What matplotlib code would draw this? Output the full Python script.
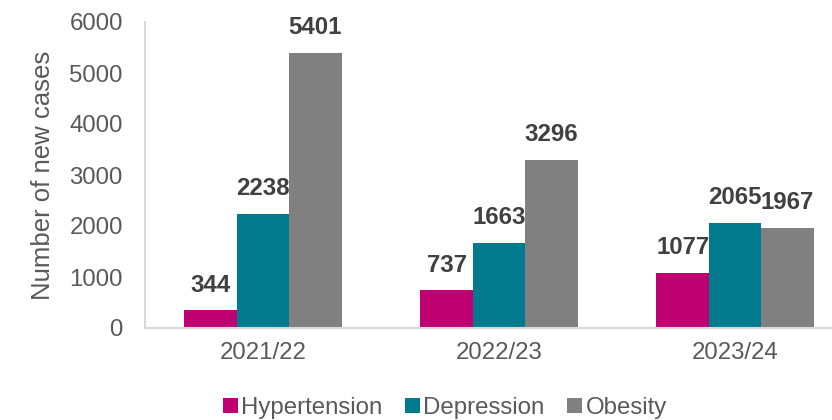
import matplotlib
matplotlib.use("Agg")
import matplotlib.pyplot as plt
import numpy as np

plt.rcParams['font.family'] = ['Liberation Sans', 'DejaVu Sans']

years = ["2021/22", "2022/23", "2023/24"]
hypertension = [344, 737, 1077]
depression = [2238, 1663, 2065]
obesity = [5401, 3296, 1967]
series_names = ["Hypertension", "Depression", "Obesity"]
colors = ["#BE0070", "#007A8C", "#808080"]

W, H = 832, 420
fig = plt.figure(figsize=(W / 100, H / 100), dpi=100)
ax = fig.add_axes([145 / W, 92 / H, 708 / W, 306 / H])

x = np.arange(len(years))
bw = 0.222
tick_color = "#595959"
label_color = "#404040"
fs = 17.3

for i, (vals, name, c) in enumerate(zip([hypertension, depression, obesity], series_names, colors)):
    pos = x + (i - 1) * bw
    bars = ax.bar(pos, vals, width=bw, color=c, label=name, zorder=2)
    for b, v in zip(bars, vals):
        ax.annotate(f"{v}", (b.get_x() + b.get_width() / 2, v),
                    xytext=(0, 10), textcoords="offset points",
                    ha="center", va="bottom", fontsize=fs,
                    fontweight="bold", color=label_color)

ax.set_xlim(-0.5, 2.5)
ax.set_ylim(0, 6000)
ax.set_yticks(range(0, 6001, 1000))
ax.set_xticks(x)
ax.set_xticklabels(years)
ax.tick_params(axis="both", length=0, labelsize=fs, colors=tick_color)
ax.tick_params(axis="y", pad=16)
ax.tick_params(axis="x", pad=10)
ax.set_ylabel("Number of new cases", fontsize=18.5, color=tick_color, labelpad=10)

for s in ["top", "right"]:
    ax.spines[s].set_visible(False)
for s in ["left", "bottom"]:
    ax.spines[s].set_color("#D9D9D9")
    ax.spines[s].set_linewidth(1.5)

fig.legend(loc="center", bbox_to_anchor=(445 / W, 1 - 408 / H), ncol=3,
           frameon=False, fontsize=fs, handlelength=0.6, handleheight=0.6,
           handletextpad=0.15, columnspacing=0.95, labelcolor=tick_color)

fig.savefig("out.png", dpi=100)
